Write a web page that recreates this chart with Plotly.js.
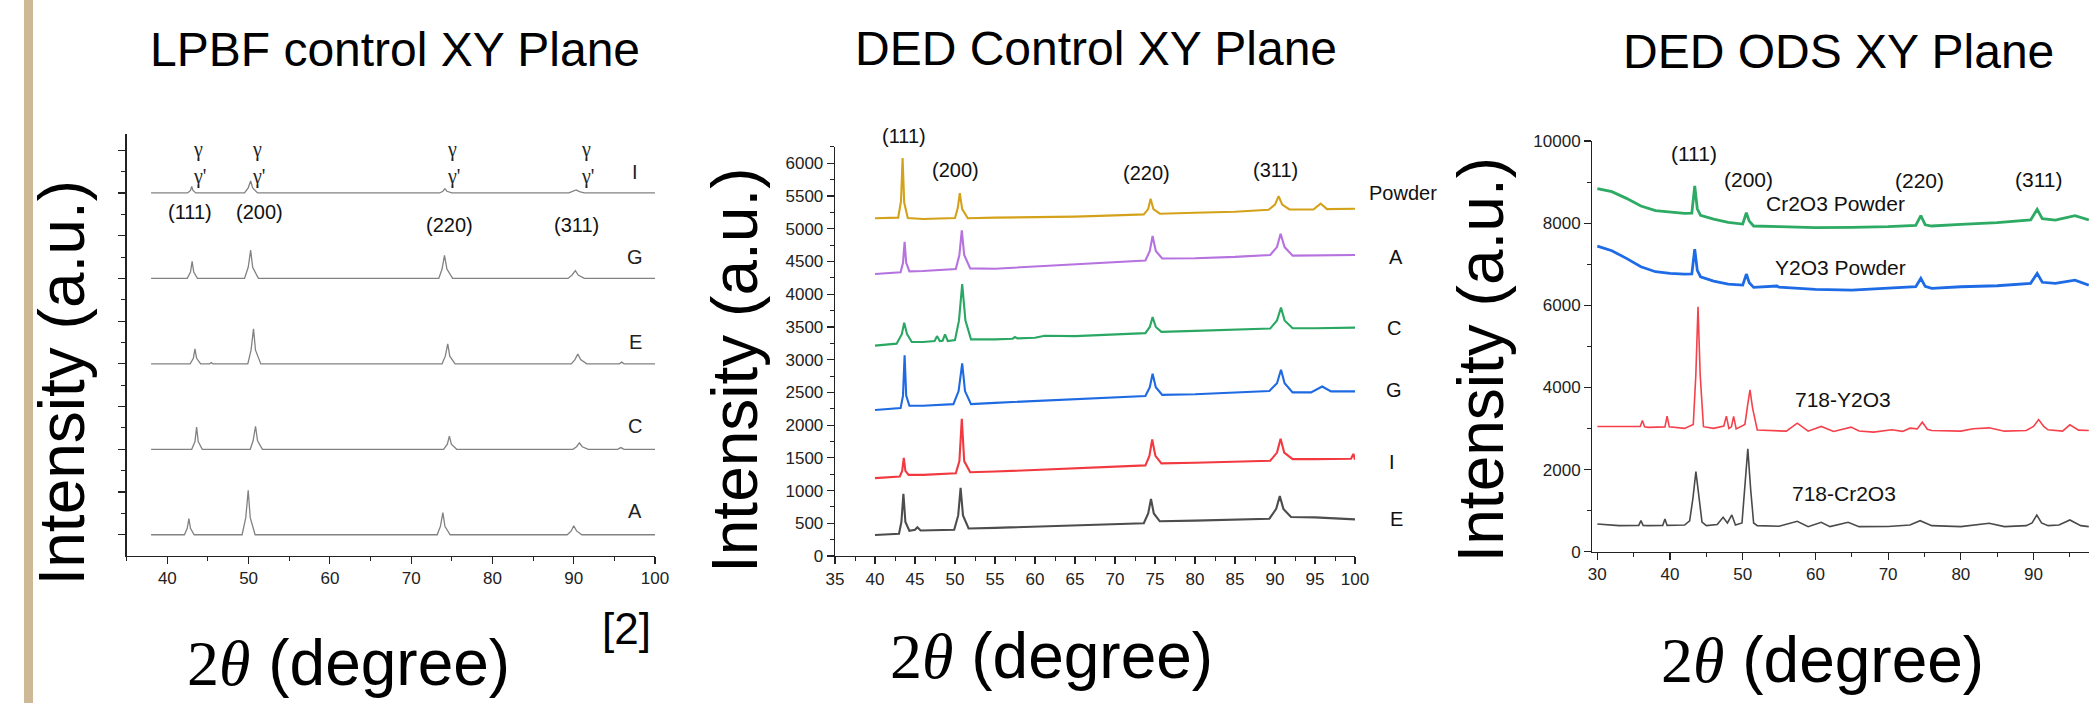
<!DOCTYPE html>
<html>
<head>
<meta charset="utf-8">
<script src="https://cdn.plot.ly/plotly-3.0.1.min.js"></script>
<style>html,body{margin:0;padding:0;background:#fff;}#chart{width:2089px;height:703px;}</style>
</head>
<body>
<div id="chart"></div>
<script>
// ---------------- Panel 1: LPBF control XY plane (offset units) ----------------
const lpbfA_x = [38, 42.1, 42.45, 42.65, 42.85, 43.3, 49.2, 49.65, 49.95, 50.2, 50.8, 73.2, 73.6, 73.9, 74.15, 74.8, 89.2, 89.7, 90.0, 90.35, 91.0, 100];
const lpbfA_y = [0, 0, 0.15, 0.38, 0.15, 0, 0, 0.4, 1.04, 0.4, 0, 0, 0.2, 0.52, 0.2, 0, 0, 0.09, 0.21, 0.09, 0, 0];
const lpbfC_x = [38, 43.0, 43.4, 43.6, 43.8, 44.3, 50.2, 50.55, 50.85, 51.1, 51.7, 74.0, 74.45, 74.7, 74.95, 75.6, 89.9, 90.35, 90.7, 91.05, 91.8, 95.4, 95.8, 96.2, 100];
const lpbfC_y = [2, 2, 2.18, 2.52, 2.18, 2, 2, 2.2, 2.54, 2.2, 2, 2, 2.12, 2.31, 2.12, 2, 2, 2.06, 2.15, 2.06, 2, 2, 2.04, 2, 2];
const lpbfE_x = [38, 42.8, 43.2, 43.4, 43.6, 44.1, 45.2, 45.4, 45.6, 49.9, 50.3, 50.6, 50.85, 51.5, 73.8, 74.2, 74.5, 74.75, 75.4, 89.7, 90.15, 90.5, 90.85, 91.6, 95.6, 95.9, 96.2, 100];
const lpbfE_y = [4, 4, 4.13, 4.35, 4.13, 4, 4, 4.03, 4, 4, 4.32, 4.82, 4.32, 4, 4, 4.18, 4.47, 4.18, 4, 4, 4.1, 4.23, 4.1, 4, 4, 4.04, 4, 4];
const lpbfG_x = [38, 42.45, 42.85, 43.05, 43.25, 43.7, 49.5, 49.95, 50.25, 50.5, 51.2, 73.4, 73.8, 74.1, 74.4, 75.1, 89.3, 89.8, 90.2, 90.55, 91.3, 100];
const lpbfG_y = [6, 6, 6.15, 6.4, 6.15, 6, 6, 6.26, 6.66, 6.26, 6, 6, 6.22, 6.54, 6.22, 6, 6, 6.08, 6.18, 6.08, 6, 6];
const lpbfI_x = [38, 42.5, 42.85, 43.0, 43.15, 43.5, 49.5, 49.95, 50.25, 50.5, 51.1, 73.5, 73.9, 74.15, 74.4, 75.0, 89.4, 89.9, 90.3, 90.7, 91.3, 100];
const lpbfI_y = [8, 8, 8.06, 8.15, 8.06, 8, 8, 8.12, 8.28, 8.12, 8, 8, 8.04, 8.1, 8.04, 8, 8, 8.03, 8.07, 8.03, 8, 8];
const lpbfNames = ['A', 'C', 'E', 'G', 'I'];
const lpbfLabelY = [0.55, 2.54, 4.52, 6.51, 8.5];

// ---------------- Panel 2: DED control XY plane (intensity) ----------------
const dedPowder_x = [40, 42.9, 43.25, 43.45, 43.65, 44.1, 46, 50, 50.35, 50.6, 50.9, 51.6, 55, 60, 65, 70, 73.6, 74.15, 74.45, 74.8, 75.6, 80, 85, 89.2, 90.0, 90.45, 90.9, 91.8, 94.8, 95.7, 96.5, 100];
const dedPowder_y = [5160, 5170, 5420, 6080, 5400, 5165, 5150, 5165, 5320, 5545, 5300, 5160, 5170, 5175, 5185, 5205, 5220, 5300, 5460, 5300, 5230, 5245, 5260, 5290, 5370, 5500, 5370, 5295, 5295, 5385, 5300, 5305];
const dedA_x = [40, 43.2, 43.5, 43.7, 43.9, 44.3, 46, 50.1, 50.55, 50.85, 51.15, 51.9, 55, 60, 65, 70, 73.8, 74.35, 74.7, 75.1, 75.9, 80, 85, 89.4, 90.25, 90.7, 91.2, 92.2, 95, 100];
const dedA_y = [4310, 4335, 4480, 4800, 4480, 4350, 4355, 4385, 4600, 4975, 4600, 4395, 4390, 4425, 4460, 4495, 4515, 4660, 4890, 4660, 4545, 4550, 4570, 4600, 4720, 4925, 4720, 4590, 4590, 4600];
const dedC_x = [40, 42.7, 43.35, 43.65, 44.0, 44.6, 46, 47.45, 47.75, 48.1, 48.45, 48.75, 49.1, 50.0, 50.5, 50.9, 51.3, 52, 55, 57.2, 57.5, 57.8, 60, 60.8, 61.2, 65, 70, 73.8, 74.35, 74.7, 75.1, 75.8, 80, 85, 89.4, 90.25, 90.75, 91.2, 92.2, 95, 100];
const dedC_y = [3215, 3245, 3390, 3565, 3390, 3270, 3270, 3285, 3360, 3285, 3290, 3385, 3285, 3300, 3600, 4155, 3600, 3310, 3310, 3320, 3345, 3325, 3335, 3350, 3365, 3360, 3385, 3405, 3500, 3650, 3500, 3425, 3440, 3455, 3475, 3600, 3795, 3600, 3480, 3480, 3490];
const dedG_x = [40, 43.2, 43.5, 43.7, 43.9, 44.3, 46, 49.8, 50.45, 50.9, 51.25, 52, 55, 60, 65, 70, 73.8, 74.35, 74.7, 75.1, 75.9, 80, 85, 89.3, 90.25, 90.75, 91.2, 92.2, 94.5, 95.9, 97, 100];
const dedG_y = [2230, 2260, 2450, 3065, 2450, 2295, 2295, 2320, 2520, 2945, 2520, 2320, 2340, 2368, 2394, 2428, 2445, 2580, 2785, 2580, 2462, 2472, 2497, 2522, 2640, 2845, 2640, 2500, 2500, 2590, 2515, 2515];
const dedI_x = [40, 43.1, 43.4, 43.6, 43.8, 44.2, 46, 50.1, 50.55, 50.85, 51.15, 51.9, 55, 60, 65, 70, 73.8, 74.3, 74.65, 75.05, 75.8, 80, 85, 89.4, 90.25, 90.7, 91.15, 92.2, 95, 99.5, 99.8, 100];
const dedI_y = [1190, 1215, 1300, 1500, 1300, 1240, 1240, 1265, 1450, 2095, 1450, 1280, 1290, 1315, 1345, 1370, 1385, 1530, 1780, 1530, 1415, 1425, 1440, 1455, 1580, 1790, 1580, 1480, 1480, 1485, 1560, 1470];
const dedE_x = [40, 43.0, 43.3, 43.55, 43.8, 44.3, 45.0, 45.3, 45.7, 49.9, 50.4, 50.7, 51.0, 51.7, 55, 60, 65, 70, 73.6, 74.15, 74.5, 74.85, 75.6, 80, 85, 89.3, 90.15, 90.6, 91.05, 92, 95, 100];
const dedE_y = [320, 340, 520, 950, 520, 385, 400, 440, 390, 400, 620, 1040, 620, 420, 430, 450, 470, 490, 500, 650, 870, 650, 530, 540, 555, 570, 720, 915, 720, 595, 590, 560];
const dedNames = ['Powder', 'A', 'C', 'G', 'I', 'E'];
const dedLabelY = [5551, 4573, 3484, 2536, 1441, 561];
const dedLabelX = [1403, 1396, 1394, 1394, 1392, 1396];

// ---------------- Panel 3: DED ODS XY plane (intensity) ----------------
const odsCrPowder_x = [30, 32, 34, 36, 38, 40, 42, 43.0, 43.4, 43.75, 44.2, 46, 48, 50, 50.5, 50.9, 51.5, 55, 60, 65, 70, 73.8, 74.5, 75.1, 76, 80, 85, 89.6, 90.5, 91.2, 93, 95.7, 97.6];
const odsCrPowder_y = [8840, 8766, 8603, 8417, 8303, 8262, 8238, 8245, 8904, 8350, 8190, 8100, 8019, 7978, 8254, 8050, 7930, 7913, 7889, 7897, 7913, 7946, 8181, 7960, 7930, 7970, 8011, 8076, 8335, 8110, 8076, 8181, 8076];
const odsYPowder_x = [30, 32, 34, 36, 38, 40, 42, 43.0, 43.4, 43.75, 44.2, 46, 48, 50, 50.5, 50.9, 51.5, 54.7, 55, 60, 65, 70, 73.8, 74.5, 75.1, 76, 80, 85, 89.6, 90.5, 91.2, 93, 95.7, 97.6];
const odsYPowder_y = [7442, 7329, 7142, 6939, 6817, 6776, 6760, 6765, 7369, 6850, 6695, 6590, 6517, 6492, 6760, 6550, 6435, 6470, 6440, 6387, 6370, 6411, 6451, 6654, 6460, 6411, 6451, 6476, 6533, 6776, 6560, 6533, 6613, 6492];
const odsY718_x = [30, 33, 35.9, 36.2, 36.5, 37, 39.3, 39.6, 39.9, 42, 43.2, 43.55, 43.85, 44.15, 44.6, 46, 47.4, 47.75, 48.1, 48.45, 48.75, 49.1, 50.3, 50.7, 51.0, 51.35, 52, 56, 57.5, 59, 60.8, 62.5, 64.9, 66, 68, 70.5, 72, 73.0, 74.0, 74.7, 75.4, 76, 80, 81.7, 83.9, 86, 89, 90.0, 90.7, 91.4, 92, 94, 95.0, 96.2, 97.6];
const odsY718_y = [3049, 3044, 3050, 3195, 3040, 3028, 3040, 3300, 3040, 3003, 3100, 4300, 5966, 4300, 3044, 3003, 3060, 3301, 3000, 3040, 3293, 2990, 3100, 3600, 3943, 3500, 2963, 2935, 3130, 2935, 3049, 2927, 3033, 2940, 2911, 2968, 2930, 3008, 2990, 3154, 2980, 2951, 2935, 2992, 3016, 2935, 2950, 3050, 3219, 3050, 2968, 2935, 3089, 2960, 2951];
const odsCr718_x = [30, 33, 35.7, 36.0, 36.3, 37, 39.0, 39.3, 39.6, 42, 42.7, 43.15, 43.56, 43.95, 44.4, 45, 46.5, 47.3, 47.9, 48.5, 49.0, 49.9, 50.3, 50.7, 51.1, 51.5, 52, 55, 57.5, 59, 60.8, 62, 64.5, 65.5, 66, 70, 73, 74.4, 76, 80, 82, 83.9, 86, 89, 89.8, 90.45, 91.1, 92, 93.5, 95, 96.5, 97.6];
const odsCr718_y = [675, 634, 640, 756, 640, 634, 640, 797, 640, 650, 750, 1300, 1951, 1300, 720, 634, 660, 837, 700, 894, 650, 700, 1500, 2504, 1500, 700, 634, 620, 740, 610, 715, 610, 715, 650, 610, 615, 650, 756, 634, 610, 650, 691, 610, 634, 700, 894, 700, 634, 650, 772, 634, 610];
const odsNames = ['Cr2O3 Powder', 'Y2O3 Powder', '718-Y2O3', '718-Cr2O3'];
const odsLabelX = [62.7, 63.4, 63.8, 63.9];
const odsLabelY = [8470, 6920, 3710, 1415];
const odsYTickVals = [0, 2000, 4000, 6000, 8000, 10000];
const odsYTickText = ['0', '2000', '4000', '6000', '8000', '10000'];

const peakNames = ['(111)', '(200)', '(220)', '(311)'];

// ---------------- helpers ----------------
const W = 2089, H = 703;
const px = v => v / W;
const py = v => 1 - v / H;
const SANS = 'Liberation Sans, Arial, Helvetica, sans-serif';
const SERIF = 'Liberation Serif, Times New Roman, serif';

const traces = [];
function line(x, y, xa, ya, color, width) {
  traces.push({x: x, y: y, xaxis: xa, yaxis: ya, type: 'scatter', mode: 'lines',
    line: {color: color, width: width, shape: 'linear'}, hoverinfo: 'skip'});
}
// panel 1
const grey1 = '#828282';
line(lpbfA_x, lpbfA_y, 'x', 'y', grey1, 1.3);
line(lpbfC_x, lpbfC_y, 'x', 'y', grey1, 1.3);
line(lpbfE_x, lpbfE_y, 'x', 'y', grey1, 1.3);
line(lpbfG_x, lpbfG_y, 'x', 'y', grey1, 1.3);
line(lpbfI_x, lpbfI_y, 'x', 'y', grey1, 1.3);
// panel 2
line(dedPowder_x, dedPowder_y, 'x2', 'y2', '#D4A21A', 2.1);
line(dedA_x, dedA_y, 'x2', 'y2', '#B672DF', 2.1);
line(dedC_x, dedC_y, 'x2', 'y2', '#2AA763', 2.1);
line(dedG_x, dedG_y, 'x2', 'y2', '#1D6AE2', 2.1);
line(dedI_x, dedI_y, 'x2', 'y2', '#F2393F', 2.1);
line(dedE_x, dedE_y, 'x2', 'y2', '#4d4d4d', 2.1);
// panel 3
line(odsCrPowder_x, odsCrPowder_y, 'x3', 'y3', '#2DAA63', 2.8);
line(odsYPowder_x, odsYPowder_y, 'x3', 'y3', '#1E6BE6', 2.8);
line(odsY718_x, odsY718_y, 'x3', 'y3', '#F5414B', 1.6);
line(odsCr718_x, odsCr718_y, 'x3', 'y3', '#4a4a4a', 1.6);

const ann = [];
function txt(o) { ann.push(Object.assign({showarrow: false, xanchor: 'center', yanchor: 'middle'}, o)); }

// titles
txt({text: 'LPBF control XY Plane', xref: 'paper', yref: 'paper', x: px(395), y: py(49), font: {family: SANS, size: 48, color: '#000'}});
txt({text: 'DED Control XY Plane', xref: 'paper', yref: 'paper', x: px(1096), y: py(48), font: {family: SANS, size: 48, color: '#000'}});
txt({text: 'DED ODS XY Plane', xref: 'paper', yref: 'paper', x: px(1838), y: py(52), font: {family: SANS, size: 48, color: '#000'}});

// axis titles
const xTitle = '<span style="font-family:Liberation Serif">2<i>θ</i></span> (degree)';
txt({text: xTitle, xref: 'paper', yref: 'paper', x: px(348.5), y: py(663), font: {family: SANS, size: 64, color: '#000'}});
txt({text: xTitle, xref: 'paper', yref: 'paper', x: px(1051.5), y: py(656), font: {family: SANS, size: 64, color: '#000'}});
txt({text: xTitle, xref: 'paper', yref: 'paper', x: px(1822), y: py(660), font: {family: SANS, size: 64, color: '#000'}});
const yTitle = 'Intensity (a.u.)';
txt({text: yTitle, textangle: -90, xref: 'paper', yref: 'paper', x: px(61.5), y: py(383), font: {family: SANS, size: 64, color: '#000'}});
txt({text: yTitle, textangle: -90, xref: 'paper', yref: 'paper', x: px(735.5), y: py(370.5), font: {family: SANS, size: 64, color: '#000'}});
txt({text: yTitle, textangle: -90, xref: 'paper', yref: 'paper', x: px(1480.5), y: py(360), font: {family: SANS, size: 64, color: '#000'}});
txt({text: '[2]', xref: 'paper', yref: 'paper', x: px(626.7), y: py(628), font: {family: SANS, size: 44, color: '#000'}});

// panel 1 annotations
const gx = [43.76, 51.07, 75.08, 91.46];
const gpx = [43.95, 51.25, 75.25, 91.65];
gx.forEach((v, i) => {
  txt({text: 'γ', xref: 'x', yref: 'y', x: v, y: 9.01, font: {family: SERIF, size: 20, color: '#222'}});
  txt({text: "γ'", xref: 'x', yref: 'y', x: gpx[i], y: 8.38, font: {family: SERIF, size: 20, color: '#222'}});
});
const p1x = [42.83, 51.3, 74.7, 90.3];
const p1y = [7.56, 7.56, 7.25, 7.25];
peakNames.forEach((n, i) => txt({text: n, xref: 'x', yref: 'y', x: p1x[i], y: p1y[i], font: {family: SANS, size: 20, color: '#111'}}));
lpbfNames.forEach((n, i) => txt({text: n, xref: 'x', yref: 'y', x: 97.6, y: lpbfLabelY[i], font: {family: SANS, size: 20, color: '#222'}}));

// panel 2 annotations
const p2x = [43.6, 50.1, 73.9, 90.0];
const p2py = [136, 170, 173.3, 170];
peakNames.forEach((n, i) => txt({text: n, xref: 'x2', yref: 'paper', x: p2x[i], y: py(p2py[i]), font: {family: SANS, size: 20, color: '#111'}}));
dedNames.forEach((n, i) => txt({text: n, xref: 'paper', yref: 'y2', x: px(dedLabelX[i]), y: dedLabelY[i], font: {family: SANS, size: 20, color: '#111'}}));

// panel 3 annotations
const p3x = [43.3, 50.8, 74.3, 90.7];
const p3y = [9690, 9060, 9050, 9060];
peakNames.forEach((n, i) => txt({text: n, xref: 'x3', yref: 'y3', x: p3x[i], y: p3y[i], font: {family: SANS, size: 21, color: '#111'}}));
odsNames.forEach((n, i) => txt({text: n, xref: 'x3', yref: 'y3', x: odsLabelX[i], y: odsLabelY[i], font: {family: SANS, size: 21, color: '#111'}}));

const tickFont = {family: SANS, size: 17, color: '#222'};
function axis(o) {
  return Object.assign({
    showgrid: false, zeroline: false, showline: true, linecolor: '#222', linewidth: 1.3,
    ticks: 'outside', ticklen: 7, tickwidth: 1.2, tickcolor: '#222', tickfont: tickFont,
    tickmode: 'linear', fixedrange: true, exponentformat: 'none'
  }, o);
}

const layout = {
  width: W, height: H,
  margin: {l: 0, r: 0, t: 0, b: 0, pad: 0},
  paper_bgcolor: '#fff', plot_bgcolor: 'rgba(0,0,0,0)',
  showlegend: false,
  xaxis: axis({domain: [126.7 / W, 655 / W], range: [35, 100], anchor: 'y', tick0: 0, dtick: 10,
    minor: {ticks: 'outside', ticklen: 4, tickwidth: 1, tickcolor: '#222', dtick: 5, tick0: 0}}),
  yaxis: axis({domain: [(H - 555.7) / H, (H - 134) / H], range: [-0.49, 9.38], anchor: 'x', tick0: 0, dtick: 1,
    showticklabels: false, minor: {ticks: 'outside', ticklen: 4, tickwidth: 1, tickcolor: '#222', dtick: 0.5, tick0: 0}}),
  xaxis2: axis({domain: [835 / W, 1355 / W], range: [35, 100], anchor: 'y2', tick0: 0, dtick: 5,
    minor: {ticks: 'outside', ticklen: 4, tickwidth: 1, tickcolor: '#222', dtick: 2.5, tick0: 0}}),
  yaxis2: axis({domain: [(H - 556) / H, (H - 146.7) / H], range: [0, 6254], anchor: 'x2', tick0: 0, dtick: 500,
    minor: {ticks: 'outside', ticklen: 4, tickwidth: 1, tickcolor: '#222', dtick: 250, tick0: 0}}),
  xaxis3: axis({domain: [1592.3 / W, 1], range: [29.31, 97.63], anchor: 'y3', tick0: 0, dtick: 10,
    minor: {ticks: 'outside', ticklen: 4, tickwidth: 1, tickcolor: '#222', dtick: 5, tick0: 0}}),
  yaxis3: axis({domain: [(H - 551.7) / H, (H - 141) / H], range: [0, 10000], anchor: 'x3',
    tickmode: 'array', tickvals: odsYTickVals, ticktext: odsYTickText,
    minor: {ticks: 'outside', ticklen: 4, tickwidth: 1, tickcolor: '#222', tickmode: 'linear', dtick: 1000, tick0: 0}}),
  shapes: [{type: 'rect', xref: 'paper', yref: 'paper', x0: 24 / W, x1: 33 / W, y0: 0, y1: 1,
    fillcolor: '#CDB995', line: {width: 0}, layer: 'below'}],
  annotations: ann
};

Plotly.newPlot('chart', traces, layout, {displayModeBar: false, staticPlot: true});
</script>
</body>
</html>
